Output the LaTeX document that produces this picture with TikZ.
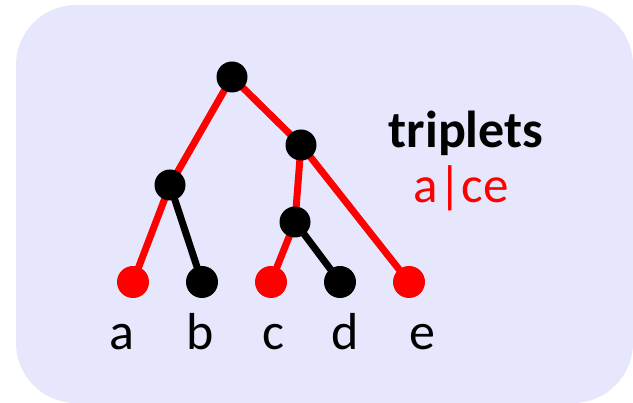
\documentclass[tikz,border=0pt]{standalone}
\usepackage{fontspec}
\setmainfont{Carlito}
\usepackage{xcolor}
\usepackage{tikz}
\usetikzlibrary{
  positioning,
  calc
}
\definecolor{trBack}{HTML}{E6E6FC}
\definecolor{trRed}{HTML}{FF0000}
\definecolor{trDark}{HTML}{000000}
\pgfdeclarelayer{bg}
\pgfsetlayers{bg,main}
\tikzset{
  vertex/.style={circle, inner sep=0pt, minimum size=31pt, fill=trDark},
  leaf/.style={vertex, minimum size=32pt},
  leafin/.style={leaf, fill=trRed},
  branch/.style={line width=7pt, trDark},
  branchin/.style={branch, trRed},
  lbl/.style={anchor=base, inner sep=0pt, font=\fontsize{52}{60}\selectfont},
  title/.style={anchor=base, inner sep=0pt, font=\fontsize{52}{60}\selectfont\bfseries},
  triple/.style={anchor=base, inner sep=0pt, text=trRed, font=\fontsize{51}{59}\selectfont}
}

\begin{document}
\begin{tikzpicture}[x=1pt, y=-1pt]
  \useasboundingbox (0,0) rectangle (633,403);

  % tree vertices
  \node[vertex] (root) at (232,77) {};
  \node[vertex] (lft) at (170,185) {};
  \node[vertex] (rgt) at (301,145) {};
  \node[vertex] (cd) at (295,222) {};
  \node[leafin] (a) at (133,282) {};
  \node[leaf] (b) at (202,282) {};
  \node[leafin] (c) at (271,282) {};
  \node[leaf] (d) at (340,282) {};
  \node[leafin] (e) at (409,282) {};

  % leaf names
  \node[lbl] (la) at (122,350) {a};
  \node[lbl] (lb) at (200,350) {b};
  \node[lbl] (lc) at (273,350) {c};
  \node[lbl] (ld) at (345,350) {d};
  \node[lbl] (le) at (422,350) {e};

  \node[title] (ttl) at (466,148) {triplets};
  \node[triple] (trp) at (461,203) {a|ce};

  \begin{pgfonlayer}{bg}
    \fill[trBack, rounded corners=60pt] (16,5) rectangle (633,403);
    \draw[branchin] (root.center) -- (lft.center);
    \draw[branchin] (root.center) -- (rgt.center);
    \draw[branchin] (lft.center) -- (a.center);
    \draw[branch] (lft.center) -- (b.center);
    \draw[branchin] (rgt.center) -- (cd.center);
    \draw[branchin] (rgt.center) -- (e.center);
    \draw[branchin] (cd.center) -- (c.center);
    \draw[branch] (cd.center) -- (d.center);
  \end{pgfonlayer}
\end{tikzpicture}
\end{document}
